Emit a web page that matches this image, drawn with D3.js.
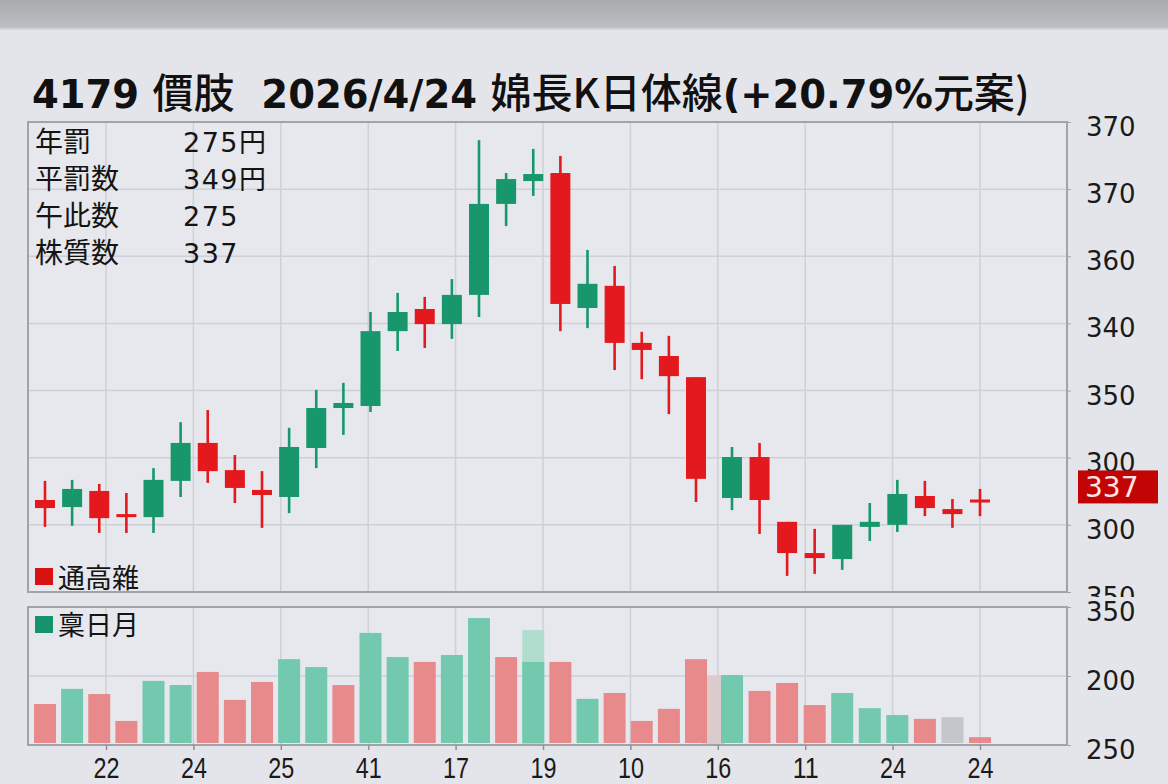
<!DOCTYPE html>
<html><head><meta charset="utf-8">
<script src="https://cdn.jsdelivr.net/npm/d3@7"></script>
<style>
html,body{margin:0;padding:0;background:#e3e5ea;}
svg{display:block;}
</style></head><body>
<svg id="c" width="1168" height="784"></svg>
<script>
// ---------- data ----------
const opens  = [277.4,275.3,280.1,273.2,272.3,283.1,294.4,286.3,280.4,278.3,292.9,304.8,305.4,327.7,334.3,329.8,338.5,365.6,372.4,374.8,334.6,341.2,324.2,320.3,314.0,278.0,290.2,270.9,261.6,259.8,269.4,270.0,278.6,274.7,277.2];
const highs  = [283.1,283.4,282.2,279.5,286.9,300.6,304.2,290.8,286.0,298.9,310.2,312.3,333.4,339.1,337.9,343.2,384.6,374.8,382.0,379.9,351.9,347.1,327.5,326.3,314.0,293.2,294.4,270.9,268.8,270.0,276.5,283.4,283.1,277.7,280.7];
const lows   = [269.4,269.7,267.6,267.6,267.6,278.3,282.5,276.5,269.1,273.5,286.9,296.8,303.6,321.8,322.7,325.4,331.9,359.0,368.0,327.7,328.6,316.1,313.4,303.0,276.8,274.4,267.3,254.8,255.4,256.6,265.2,267.9,272.6,269.1,272.6];
const closes = [275.0,280.7,272.0,272.3,283.4,294.4,286.0,281.0,278.9,293.2,304.8,306.3,327.7,333.4,329.8,338.5,365.6,373.0,374.5,335.8,341.8,324.2,322.1,314.3,283.7,290.2,277.4,261.6,260.1,270.0,270.9,279.2,275.0,273.2,277.0];
const volumes    = [113,157,142,64,180,168,206,125,177,243,220,168,319,249,235,255,362,249,235,235,128,145,64,99,243,197,151,174,110,145,101,81,70,75,17];
const volumeDirs = ["d","u","d","d","u","u","d","d","d","u","u","d","u","u","d","u","u","d","u","d","u","d","d","d","d","u","d","d","d","u","u","u","d","n","d"];
const ghostSlots = [18, 24.5];
const ghostVolumes = [333, 200];
const ghostDirs = ["u","d"];
const xTickLabels = ["22","24","25","41","17","19","10","16","11","24","24"];
const priceTicks = [250,270,290,310,330,350,370,390];
const priceTickLabels = ["350","300","300","350","340","360","370","370"];
const volTicks = [0,200,400];
const volTickLabels = ["250","200","350"];
const infoLabels = ["年罰","平罰数","午此数","株質数"];
const infoValues = ["275円","349円","275","337"];
const badgeText = "337";
const badgeValue = 281.3;
const titleParts = [["4179 ",true],["價肢",false],["  2026/4/24 ",true],["婂長K日体線",false],["(+20.79%",true],["元案",false],[")",false]];
const legendMain = "通高雜";
const legendVol = "稟日月";

// ---------- layout ----------
const L = 28, R = 1067, T = 122, B = 592, VT = 607, VB = 745;
const C = {up:"#17976b", down:"#e3191d", vup:"#72c9ae", vdown:"#e88a8c", vn:"#c4c6cc",
           gup:"#b0ddce", gdown:"#dccbcd", grid:"#cdd0d6", frame:"#a0a3a8"};
const LATIN = "'DejaVu Sans','Noto Sans CJK JP',sans-serif";
const CJK = "'Noto Sans CJK JP','DejaVu Sans',sans-serif";

const svg = d3.select("#c");
const defs = svg.append("defs");
const g1 = defs.append("linearGradient").attr("id","topband").attr("x1",0).attr("x2",0).attr("y1",0).attr("y2",1);
g1.append("stop").attr("offset","0%").attr("stop-color","#a9aaae");
g1.append("stop").attr("offset","100%").attr("stop-color","#bebfc3");
defs.append("clipPath").attr("id","axclip").append("rect").attr("x",0).attr("y",100).attr("width",1168).attr("height",497);

svg.append("rect").attr("width",1168).attr("height",784).attr("fill","#e3e5ea");
svg.append("rect").attr("width",1168).attr("height",28).attr("fill","url(#topband)");
svg.append("rect").attr("y",28).attr("width",1168).attr("height",2).attr("fill","#d2d4d9");

const n = opens.length;
const x = d3.scaleLinear().domain([0,24,25,n-1]).range([45,696,732,980]);
const xt = d3.scaleLinear().domain([0,xTickLabels.length-1]).range([106,980]);
const y = d3.scaleLinear().domain([250,390]).range([B,T]);
const yv = d3.scaleLinear().domain([0,400]).range([VB,VT]);

// panels
svg.append("rect").attr("x",L).attr("y",T).attr("width",R-L).attr("height",B-T).attr("fill","#e6e8ed");
svg.append("rect").attr("x",L).attr("y",VT).attr("width",R-L).attr("height",VB-VT).attr("fill","#e6e8ed");

// grids
const grid = svg.append("g").attr("stroke",C.grid).attr("stroke-width",1.5);
grid.selectAll(".hg").data(priceTicks).join("line").attr("class","hg")
  .attr("x1",L).attr("x2",R).attr("y1",d=>y(d)).attr("y2",d=>y(d));
grid.selectAll(".vg").data(d3.range(xTickLabels.length)).join("line").attr("class","vg")
  .attr("x1",d=>xt(d)).attr("x2",d=>xt(d)).attr("y1",T).attr("y2",B);
grid.selectAll(".hvg").data(volTicks).join("line").attr("class","hvg")
  .attr("x1",L).attr("x2",R).attr("y1",d=>yv(d)).attr("y2",d=>yv(d));
grid.selectAll(".vvg").data(d3.range(xTickLabels.length)).join("line").attr("class","vvg")
  .attr("x1",d=>xt(d)).attr("x2",d=>xt(d)).attr("y1",VT).attr("y2",VB);

// volume bars
const vw = 22;
svg.append("g").selectAll("rect").data(ghostSlots).join("rect")
  .attr("x",d=>x(d)-vw/2).attr("width",vw)
  .attr("y",(d,i)=>yv(ghostVolumes[i])).attr("height",(d,i)=>yv(0)-yv(ghostVolumes[i]))
  .attr("fill",(d,i)=>ghostDirs[i]==="u"?C.gup:C.gdown);
svg.append("g").selectAll("rect").data(volumes).join("rect")
  .attr("x",(d,i)=>x(i)-vw/2).attr("width",vw)
  .attr("y",d=>yv(d)-2).attr("height",d=>yv(0)-yv(d))
  .attr("fill",(d,i)=>volumeDirs[i]==="u"?C.vup:(volumeDirs[i]==="d"?C.vdown:C.vn));

// candles
const cg = svg.append("g");
const idx = d3.range(n);
const col = i => closes[i] >= opens[i] ? C.up : C.down;
cg.selectAll("line").data(idx).join("line")
  .attr("x1",i=>x(i)).attr("x2",i=>x(i))
  .attr("y1",i=>y(highs[i])).attr("y2",i=>y(lows[i]))
  .attr("stroke",col).attr("stroke-width",2.6);
const bw = 20;
cg.selectAll("rect").data(idx).join("rect")
  .attr("x",i=>x(i)-bw/2).attr("width",bw)
  .attr("y",i=>{const h=Math.abs(y(opens[i])-y(closes[i])); const top=y(Math.max(opens[i],closes[i])); return h<3? top-(3-h)/2 : top;})
  .attr("height",i=>Math.max(3,Math.abs(y(opens[i])-y(closes[i]))))
  .attr("fill",col);

// frames
svg.append("rect").attr("x",L).attr("y",T).attr("width",R-L).attr("height",B-T)
  .attr("fill","none").attr("stroke",C.frame).attr("stroke-width",2);
svg.append("rect").attr("x",L).attr("y",VT).attr("width",R-L).attr("height",VB-VT)
  .attr("fill","none").attr("stroke",C.frame).attr("stroke-width",2);

// right axes
const ay = svg.append("g").attr("transform",`translate(${R},0)`).attr("clip-path","url(#axclip)")
  .call(d3.axisRight(y).tickValues(priceTicks).tickFormat((d,i)=>priceTickLabels[i]).tickSize(4).tickPadding(15));
ay.select(".domain").remove();
ay.selectAll("line").attr("stroke",C.frame);
ay.selectAll("text").attr("font-family",LATIN).attr("font-size",26).attr("fill","#1a1a1a").attr("dy","0.52em");

const av = svg.append("g").attr("transform",`translate(${R},0)`)
  .call(d3.axisRight(yv).tickValues(volTicks).tickFormat((d,i)=>volTickLabels[i]).tickSize(4).tickPadding(15));
av.select(".domain").remove();
av.selectAll("line").attr("stroke",C.frame);
av.selectAll("text").attr("font-family",LATIN).attr("font-size",26).attr("fill","#1a1a1a").attr("dy","0.5em");

// bottom axis
const ax = svg.append("g").attr("transform",`translate(0,${VB})`)
  .call(d3.axisBottom(xt).tickValues(d3.range(xTickLabels.length)).tickFormat(i=>xTickLabels[i]).tickSize(5).tickPadding(7));
ax.select(".domain").remove();
ax.selectAll("line").attr("stroke","#8d9096").attr("stroke-width",1.5);
ax.selectAll("text").attr("font-family","'Liberation Sans',sans-serif").attr("font-size",29).attr("fill","#1a1a1a")
  .attr("textLength",26).attr("lengthAdjust","spacingAndGlyphs");

// badge
const by = y(badgeValue);
svg.append("rect").attr("x",1078).attr("y",by-16.5).attr("width",80).attr("height",33).attr("fill","#c20404");
svg.append("text").attr("x",1085).attr("y",by).attr("dy","0.36em").text(badgeText)
  .attr("font-family",LATIN).attr("font-size",28).attr("fill","#ffe6e6");

// title
const tt = svg.append("text").attr("x",32).attr("y",108).attr("fill","#111").style("white-space","pre");
titleParts.forEach(([s,b])=>{
  tt.append("tspan").text(s).attr("font-family",b?LATIN:CJK).attr("font-weight",b?"bold":"500").attr("font-size",b?38.5:41);
});

// info box
const info = svg.append("g");
info.selectAll(".il").data(infoLabels).join("text").attr("class","il")
  .attr("x",35).attr("y",(d,i)=>152+i*37).text(d=>d)
  .attr("font-family",CJK).attr("font-size",28).attr("fill","#141414");
info.selectAll(".iv").data(infoValues).join("text").attr("class","iv")
  .attr("x",183).attr("y",(d,i)=>152+i*37).text(d=>d)
  .attr("font-family",LATIN).attr("font-size",27).attr("letter-spacing",1.5).attr("fill","#141414");

// legends
svg.append("rect").attr("x",35).attr("y",568).attr("width",18).attr("height",17).attr("fill","#d81212");
svg.append("text").attr("x",58).attr("y",588).text(legendMain).attr("font-family",CJK).attr("font-size",27).attr("fill","#141414");
svg.append("rect").attr("x",35).attr("y",616).attr("width",18).attr("height",17).attr("fill","#15936a");
svg.append("text").attr("x",58).attr("y",635).text(legendVol).attr("font-family",CJK).attr("font-size",27).attr("fill","#141414");
</script>
</body></html>
